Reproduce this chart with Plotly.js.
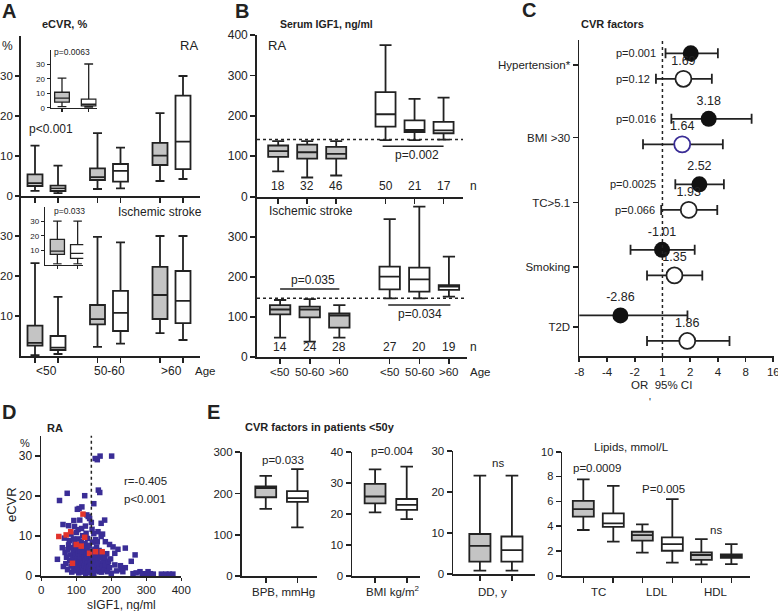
<!DOCTYPE html>
<html>
<head>
<meta charset="utf-8">
<script src="https://cdn.plot.ly/plotly-3.0.1.min.js"></script>
<style>
  html, body { margin: 0; padding: 0; background: #fff; }
  #chart { width: 778px; height: 611px; }
</style>
</head>
<body>
<div id="chart"></div>
<script>
// ---- data (box stats are [lower whisker, q1, median, q3, upper whisker]) ----
const ageGroups = ['<50', '50-60', '>60'];

// A: eCVR, % by age; gray = low IGF1, white = high IGF1
const ecvrRaGray = [[1.3, 2.5, 3.2, 5.4, 12.6], [1.75, 4.0, 4.7, 6.9, 15.7], [3.75, 7.75, 10.1, 13.3, 20.7]];
const ecvrRaWhite = [[0.7, 1.25, 1.9, 2.6, 7.6], [1.9, 3.6, 6.3, 8.0, 12.1], [4.25, 6.7, 13.6, 25.1, 30]];
const ecvrRaInset = [[0.8, 3.8, 6.6, 10.7, 20.5], [0.3, 1.2, 2.4, 6.0, 30.3]];
const ecvrIsGray = [[0.2, 2.6, 3.3, 7.6, 23.2], [2.3, 7.9, 9.2, 12.75, 29.8], [5.7, 9.25, 15.25, 22.3, 30]];
const ecvrIsWhite = [[0.5, 1.5, 2.1, 5.0, 14.8], [3.1, 6.25, 10.8, 16.3, 28.4], [4.0, 8.2, 13.8, 21.25, 30]];
const ecvrIsInset = [[0.5, 7.1, 9.3, 17.5, 30], [0.5, 4.4, 7.8, 13.9, 30]];

// B: serum IGF1, ng/ml
const igfRaGray = [[62.5, 98.5, 112.5, 126.7, 137.5], [47.5, 94, 110, 129, 137.5], [52.5, 94, 106, 123.5, 137.5]];
const igfRaWhite = [[140, 173.5, 204, 258.5, 375], [140, 160, 165, 189, 242], [141, 157, 164, 185, 245]];
const igfIsGray = [[47.5, 106, 118, 129, 141.75], [37.5, 98.5, 118, 125, 144], [47.5, 72.5, 102.5, 108, 129]];
const igfIsWhite = [[146, 168.5, 200, 225, 344], [146, 162.5, 193.5, 222.5, 375], [150, 167, 175, 179, 250]];
const nRa = [18, 32, 46, 50, 21, 17];
const nIs = [14, 24, 28, 27, 20, 19];
const igfCutRa = 141.75;
const igfCutIs = 146;

// C: CVR factors, OR 95% CI (negative value = inverse ratio on this axis)
const cvrFactors = ['Hypertension*', 'BMI >30', 'TC>5.1', 'Smoking', 'T2D'];
const orFilled = [2.03, 3.18, 2.52, -1.01, -2.86];
const ciFilledLo = [1.08, 1.25, 1.38, 0.45, 0.09];
const ciFilledHi = [4.0, 9.3, 4.65, 2.24, 1.87];
const pFilled = ['p=0.001', 'p=0.016', 'p=0.0025', '', ''];
const orOpen = [1.69, 1.64, 1.93, 1.35, 1.86];
const ciOpenLo = [0.85, 0.615, 0.97, 0.68, 0.68];
const ciOpenHi = [3.44, 4.53, 3.94, 2.71, 5.35];
const pOpen = ['p=0.12', '', 'p=0.066', '', ''];
const orTicks = [-8, -4, -2, 1, 2, 4, 8, 16];

// D: eCVR vs sIGF1 in RA
const scatterBlue = [
  [154, 29.3], [160, 29.0], [168, 29.9], [201, 29.9],
  [163, 21.4], [167, 20.8], [74, 20.6], [52, 18.8], [124, 20.0], [150, 18.0],
  [103, 16.6], [116, 17.2], [108, 16.8], [130, 15.2], [134, 14.8], [138, 14.3], [93, 13.8], [110, 13.9],
  [143, 13.3], [171, 13.1], [181, 13.9], [126, 12.4], [62, 12.8], [78, 12.5],
  [105, 11.5], [95, 12.3], [115, 11.8], [132, 9.3], [150, 10.5], [162, 11.0], [171, 9.8], [160, 8.5], [183, 8.5],
  [78, 7.7], [195, 7.8], [205, 7.2], [219, 6.6], [240, 6.9], [210, 5.6], [268, 5.2], [257, 3.6], [46, 4.1],
  [63, 2.3], [210, 2.7], [226, 2.5], [240, 2.0], [229, 1.5], [190, 3.1], [181, 1.8],
  [262, 0.5], [271, 0.7], [282, 1.0], [294, 0.5], [305, 1.0], [312, 0.5], [320, 0.4], [343, 0.4], [356, 0.4],
  [366, 0.4], [376, 0.4], [288, 0.4], [300, 0.4], [150, 0.4], [167, 1.0], [139, 0.8], [200, 0.6], [215, 1.2], [233, 1.0],
  [60, 7.0], [66, 9.4], [68, 5.8], [70, 3.0], [72, 4.6], [75, 1.5], [76, 6.5], [80, 8.8], [81, 3.8], [83, 5.2],
  [85, 2.4], [87, 0.9], [88, 7.0], [90, 4.4], [92, 6.0], [93, 2.0], [95, 3.4], [96, 8.2], [98, 5.0], [99, 1.2],
  [100, 3.0], [101, 6.8], [103, 4.2], [104, 2.3], [105, 9.2], [106, 5.6], [107, 0.7], [108, 3.6], [109, 7.4], [110, 1.8],
  [111, 4.8], [112, 6.2], [113, 2.8], [114, 8.6], [115, 0.9], [116, 4.0], [117, 5.5], [118, 2.1], [119, 7.0], [120, 3.2],
  [121, 1.3], [122, 4.5], [123, 6.0], [124, 2.6], [125, 8.0], [126, 3.8], [127, 0.6], [128, 5.2], [129, 1.9], [130, 4.2],
  [131, 6.8], [132, 3.0], [133, 2.0], [134, 5.6], [135, 0.9], [136, 3.6], [137, 7.6], [138, 2.4], [139, 4.9], [140, 1.5],
  [141, 3.3], [142, 6.2], [143, 2.6], [144, 4.4], [145, 0.6], [146, 8.4], [147, 3.0], [148, 5.3], [149, 1.8], [150, 4.0],
  [152, 2.4], [153, 6.6], [154, 3.5], [156, 1.2], [157, 4.8], [158, 7.2], [159, 2.8], [161, 5.8], [162, 3.9], [164, 1.6],
  [165, 6.3], [166, 2.2], [168, 4.5], [170, 3.1], [172, 0.9], [173, 5.0], [175, 2.5], [177, 3.8], [179, 1.4], [182, 4.6],
  [184, 2.7], [187, 5.5], [189, 1.0], [192, 3.6], [195, 2.0], [198, 4.2], [85, 10.4], [118, 10.0], [145, 11.6], [100, 10.8],
  [128, 10.6], [155, 9.0], [175, 10.4], [92, 9.2]
];
const scatterRed = [[119, 15.4], [84, 11.0], [71, 10.2], [50, 9.8], [124, 9.6], [100, 7.8], [114, 7.4], [138, 5.6], [155, 6.0], [174, 6.0], [89, 3.1]];
const igfCutD = 143;

// E: CVR factors in patients <50y
const bpbGray = [163, 191, 213, 217, 243];
const bpbWhite = [118, 180, 189, 206, 259];
const bmiGray = [20.6, 23.5, 25.7, 29.8, 34.5];
const bmiWhite = [18.4, 21.4, 23, 24.9, 35.4];
const ddGray = [0.9, 3.1, 6.9, 9.8, 24];
const ddWhite = [0.9, 3.1, 5.9, 9.2, 24];
const lipidNames = ['TC', 'LDL', 'HDL'];
const lipidGray = [[3.7, 4.77, 5.38, 6.05, 7.77], [1.88, 2.84, 3.29, 3.56, 4.15], [0.94, 1.29, 1.69, 1.9, 2.97]];
const lipidWhite = [[2.76, 3.96, 4.23, 5.04, 7.25], [1.07, 2.03, 2.57, 3.1, 6.19], [0.96, 1.47, 1.61, 1.74, 2.57]];

// ---- styling helpers ----
const W = 778, H = 611;
const INK = '#222';
const GRAY = '#c4c4c4';
const BLUE = '#3a2d96';
const RED = '#e2332c';
const FONT = 'Liberation Sans, Arial, sans-serif';

const xd = (a, b) => [a / W, b / W];
const yd = (top, bottom) => [1 - bottom / H, 1 - top / H];
const id = n => (n === 1 ? '' : String(n));
const tf = size => ({ size: size, color: INK, family: FONT });

function axis(domain, extra) {
    return Object.assign({
        domain: domain, showline: true, linecolor: INK, linewidth: 1.8,
        ticks: 'outside', ticklen: 5, tickwidth: 1.6, tickcolor: INK,
        showgrid: false, zeroline: false, fixedrange: true,
        tickfont: tf(12)
    }, extra);
}

function boxTrace(stats, pos, fill, n, width, lw) {
    return {
        type: 'box', x: pos,
        lowerfence: stats.map(s => s[0]), q1: stats.map(s => s[1]), median: stats.map(s => s[2]),
        q3: stats.map(s => s[3]), upperfence: stats.map(s => s[4]),
        width: width, fillcolor: fill, line: { color: INK, width: lw || 1.8 },
        whiskerwidth: 0.6, boxpoints: false, hoverinfo: 'skip', showlegend: false,
        xaxis: 'x' + id(n), yaxis: 'y' + id(n)
    };
}

function note(text, x, y, o) {
    o = o || {};
    return {
        text: text, x: x / W, y: 1 - y / H, xref: 'paper', yref: 'paper',
        xanchor: o.anchor || 'left', yanchor: 'middle', showarrow: false, textangle: o.angle || 0,
        font: tf(o.size || 12)
    };
}

// positions
const pairOff = 0.184;
const aGrayPos = ageGroups.map((g, i) => i - pairOff);
const aWhitePos = ageGroups.map((g, i) => i + pairOff);
const bGrayPos = [0, 1, 2];
const bWhitePos = [3.7, 4.7, 5.7];
const lipGrayPos = lipidNames.map((g, i) => i - 0.254);
const lipWhitePos = lipidNames.map((g, i) => i + 0.254);
const toAxis = v => (v < 0 ? -1 / v : v);

const traces = [
    boxTrace(ecvrRaGray, aGrayPos, GRAY, 1, 0.24),
    boxTrace(ecvrRaWhite, aWhitePos, '#fff', 1, 0.24),
    boxTrace([ecvrRaInset[0]], [0], GRAY, 2, 0.55, 1.3),
    boxTrace([ecvrRaInset[1]], [1], '#fff', 2, 0.55, 1.3),
    boxTrace(ecvrIsGray, aGrayPos, GRAY, 3, 0.24),
    boxTrace(ecvrIsWhite, aWhitePos, '#fff', 3, 0.24),
    boxTrace([ecvrIsInset[0]], [0], GRAY, 4, 0.7, 1.3),
    boxTrace([ecvrIsInset[1]], [1], '#fff', 4, 0.7, 1.3),
    boxTrace(igfRaGray, bGrayPos, GRAY, 5, 0.69),
    boxTrace(igfRaWhite, bWhitePos, '#fff', 5, 0.69),
    boxTrace(igfIsGray, bGrayPos, GRAY, 6, 0.69),
    boxTrace(igfIsWhite, bWhitePos, '#fff', 6, 0.69),
    boxTrace([bpbGray], [0], GRAY, 9, 0.66),
    boxTrace([bpbWhite], [1], '#fff', 9, 0.66),
    boxTrace([bmiGray], [0], GRAY, 10, 0.66),
    boxTrace([bmiWhite], [1], '#fff', 10, 0.66),
    boxTrace([ddGray], [0], GRAY, 11, 0.66),
    boxTrace([ddWhite], [1], '#fff', 11, 0.66),
    boxTrace(lipidGray, lipGrayPos, GRAY, 12, 0.356),
    boxTrace(lipidWhite, lipWhitePos, '#fff', 12, 0.356)
];

// C forest plot
const rowsFilled = cvrFactors.map((f, i) => i);
const rowsOpen = cvrFactors.map((f, i) => i + 0.39);
const xf = orFilled.map(toAxis);
const xo = orOpen.map(toAxis);
traces.push({
    type: 'scatter', mode: 'markers+text', x: xf, y: rowsFilled, xaxis: 'x7', yaxis: 'y7',
    text: orFilled.map(String), textposition: 'top center', textfont: tf(12.5),
    marker: { size: 16, color: '#111' },
    error_x: { type: 'data', symmetric: false, array: ciFilledHi.map((h, i) => h - xf[i]),
        arrayminus: ciFilledLo.map((l, i) => xf[i] - l), color: INK, thickness: 1.8, width: 5 },
    hoverinfo: 'skip', showlegend: false
});
traces.push({
    type: 'scatter', mode: 'markers+text', x: xo, y: rowsOpen, xaxis: 'x7', yaxis: 'y7',
    text: orOpen.map(String), textposition: 'top center', textfont: tf(12.5),
    marker: { size: 16, color: '#fff', line: { color: orOpen.map((v, i) => (i === 1 ? BLUE : INK)), width: 1.8 } },
    error_x: { type: 'data', symmetric: false, array: ciOpenHi.map((h, i) => h - xo[i]),
        arrayminus: ciOpenLo.map((l, i) => xo[i] - l), color: INK, thickness: 1.8, width: 5 },
    hoverinfo: 'skip', showlegend: false
});

// D scatter
traces.push({
    type: 'scatter', mode: 'markers', x: scatterBlue.map(p => p[0]), y: scatterBlue.map(p => p[1]),
    xaxis: 'x8', yaxis: 'y8', cliponaxis: false,
    marker: { symbol: 'square', size: 5.5, color: BLUE }, hoverinfo: 'skip', showlegend: false
});
traces.push({
    type: 'scatter', mode: 'markers', x: scatterRed.map(p => p[0]), y: scatterRed.map(p => p[1]),
    xaxis: 'x8', yaxis: 'y8', cliponaxis: false,
    marker: { symbol: 'square', size: 5.5, color: RED }, hoverinfo: 'skip', showlegend: false
});

// ---- layout ----
const cMax = Math.log10(16) + 0.012;
const layout = {
    width: W, height: H, margin: { l: 0, r: 0, t: 0, b: 0 },
    paper_bgcolor: '#fff', plot_bgcolor: 'rgba(0,0,0,0)',
    font: { family: FONT, color: INK }, showlegend: false, boxmode: 'overlay',
    // A
    xaxis: axis(xd(21, 200), { anchor: 'y', range: [-0.408, 2.456], tickvals: aGrayPos.concat(aWhitePos), showticklabels: false }),
    yaxis: axis(yd(36, 196), { anchor: 'x', range: [0, 40], tickvals: [0, 10, 20, 30], ticklen: 4, tickfont: tf(11.5) }),
    xaxis2: axis(xd(50.7, 96.7), { anchor: 'y2', range: [-0.423, 1.3], tickvals: [0, 1], showticklabels: false, ticklen: 3, linewidth: 1.2, tickwidth: 1.2 }),
    yaxis2: axis(yd(50, 107.7), { anchor: 'x2', range: [0, 40], tickvals: [0, 10, 20, 30], ticklen: 3, linewidth: 1.2, tickwidth: 1.2, tickfont: tf(8) }),
    xaxis3: axis(xd(21, 200), { anchor: 'y3', range: [-0.408, 2.456], tickvals: aGrayPos.concat(aWhitePos), showticklabels: false }),
    yaxis3: axis(yd(196, 356), { anchor: 'x3', range: [0, 40], tickvals: [10, 20, 30], ticklen: 4, tickfont: tf(11.5) }),
    xaxis4: axis(xd(45, 83.3), { anchor: 'y4', range: [-0.61, 1.28], tickvals: [0, 1], showticklabels: false, ticklen: 3, linewidth: 1.2, tickwidth: 1.2 }),
    yaxis4: axis(yd(206.7, 264.7), { anchor: 'x4', range: [0, 40], tickvals: [10, 20, 30], ticklen: 3, linewidth: 1.2, tickwidth: 1.2, tickfont: tf(8) }),
    // B
    xaxis5: axis(xd(257, 463), { anchor: 'y5', range: [-0.73, 6.37], tickvals: bGrayPos.concat(bWhitePos), showticklabels: false }),
    yaxis5: axis(yd(35, 196.7), { anchor: 'x5', range: [0, 400], tickvals: [0, 100, 200, 300, 400] }),
    xaxis6: axis(xd(257, 466.7), { anchor: 'y6', range: [-0.78, 6.3], tickvals: bGrayPos.concat(bWhitePos), showticklabels: false }),
    yaxis6: axis(yd(196.7, 356.7), { anchor: 'x6', range: [0, 400], tickvals: [0, 100, 200, 300] }),
    // C
    xaxis7: axis(xd(579.3, 773.3 + 0.012 / Math.log10(2) * 27.7), { anchor: 'y7', type: 'log', range: [Math.log10(1 / 8), cMax],
        tickvals: orTicks.map(toAxis), ticktext: orTicks.map(String), ticklen: 4, tickfont: tf(11.5), ticklabeloverflow: 'allow' }),
    yaxis7: axis(yd(40, 356), { anchor: 'x7', range: [4.62, -0.203],
        tickvals: [0.18, 1.285, 2.28, 3.26, 4.18], ticktext: cvrFactors, tickfont: tf(11.5) }),
    // D
    xaxis8: axis(xd(41.3, 181.3), { anchor: 'y8', range: [0, 400], tickvals: [0, 100, 200, 300, 400], ticklen: 3, tickfont: tf(11.5) }),
    yaxis8: axis(yd(435.7, 575.7), { anchor: 'x8', range: [0, 35], tickvals: [0, 10, 20, 30], tickfont: tf(12) }),
    // E
    xaxis9: axis(xd(241.7, 316.7), { anchor: 'y9', range: [-0.76, 1.61], tickvals: [0, 1], showticklabels: false }),
    yaxis9: axis(yd(452.3, 576), { anchor: 'x9', range: [0, 300], tickvals: [0, 100, 200, 300], tickfont: tf(11.5) }),
    xaxis10: axis(xd(352.3, 420), { anchor: 'y10', range: [-0.72, 1.42], tickvals: [0, 1], showticklabels: false }),
    yaxis10: axis(yd(452.3, 576), { anchor: 'x10', range: [0, 40], tickvals: [0, 10, 20, 30, 40], tickfont: tf(11.5) }),
    xaxis11: axis(xd(453.3, 535), { anchor: 'y11', range: [-0.83, 1.72], tickvals: [0, 1], showticklabels: false }),
    yaxis11: axis(yd(451, 574.3), { anchor: 'x11', range: [0, 30], tickvals: [0, 10, 20, 30], tickfont: tf(11.5) }),
    xaxis12: axis(xd(562.3, 750), { anchor: 'y12', range: [-0.61, 2.57], tickvals: lipGrayPos.concat(lipWhitePos), showticklabels: false }),
    yaxis12: axis(yd(451.7, 576), { anchor: 'x12', range: [0, 10], tickvals: [0, 2, 4, 6, 8, 10], tickfont: tf(11) }),
    shapes: [
        { type: 'line', xref: 'x5 domain', yref: 'y5', x0: 0, x1: 1, y0: igfCutRa, y1: igfCutRa, line: { color: INK, width: 1.5, dash: 'dot' } },
        { type: 'line', xref: 'x6 domain', yref: 'y6', x0: 0, x1: 1, y0: igfCutIs, y1: igfCutIs, line: { color: INK, width: 1.5, dash: 'dot' } },
        { type: 'line', xref: 'x5', yref: 'y5', x0: 3.6, x1: 5.7, y0: 125, y1: 125, line: { color: INK, width: 1.5 } },
        { type: 'line', xref: 'x6', yref: 'y6', x0: 0, x1: 2, y0: 169, y1: 169, line: { color: INK, width: 1.5 } },
        { type: 'line', xref: 'x6', yref: 'y6', x0: 3.65, x1: 5.75, y0: 129, y1: 129, line: { color: INK, width: 1.5 } },
        { type: 'line', xref: 'x7', yref: 'y7 domain', x0: 1, x1: 1, y0: 0, y1: 1, line: { color: INK, width: 1.5, dash: 'dot' } },
        { type: 'line', xref: 'x8', yref: 'y8 domain', x0: igfCutD, x1: igfCutD, y0: 0, y1: 1, line: { color: INK, width: 1.5, dash: 'dot' } }
    ],
    annotations: []
};

const ann = layout.annotations;
// A
ann.push(note('<b>A</b>', 0, 11, { size: 20 }));
ann.push(note('<b>eCVR, %</b>', 64.5, 24, { size: 11, anchor: 'center' }));
ann.push(note('%', 0, 46, { size: 12 }));
ann.push(note('RA', 189, 46, { size: 13, anchor: 'center' }));
ann.push(note('p=0.0063', 52, 52.5, { size: 8.5 }));
ann.push(note('p<0.001', 27, 129, { size: 12 }));
ann.push(note('p=0.033', 52, 211, { size: 8.5 }));
ann.push(note('Ischemic stroke', 115.5, 212.5, { size: 12 }));
ageGroups.forEach((g, i) => ann.push({ text: g, x: i, xref: 'x3', y: 1 - 371 / H, yref: 'paper', showarrow: false,
    yanchor: 'middle', font: tf(12) }));
ann.push(note('Age', 192.5, 371, { size: 11.5 }));
// B
ann.push(note('<b>B</b>', 233, 11, { size: 20 }));
ann.push(note('<b>Serum IGF1, ng/ml</b>', 278, 24, { size: 10.5 }));
ann.push(note('RA', 266, 45, { size: 13 }));
ann.push(note('p=0.002', 416.7, 155, { size: 12, anchor: 'center' }));
ann.push(note('Ischemic stroke', 267, 211, { size: 12 }));
ann.push(note('p=0.035', 313.3, 280, { size: 12, anchor: 'center' }));
ann.push(note('p=0.034', 420, 314.3, { size: 12, anchor: 'center' }));
bGrayPos.concat(bWhitePos).forEach((p, i) => {
    ann.push({ text: String(nRa[i]), x: p, xref: 'x5', y: 1 - 186 / H, yref: 'paper', showarrow: false,
        yanchor: 'middle', font: tf(12) });
    ann.push({ text: String(nIs[i]), x: p, xref: 'x6', y: 1 - 346.7 / H, yref: 'paper', showarrow: false,
        yanchor: 'middle', font: tf(12) });
    ann.push({ text: ageGroups[i % 3], x: p, xref: 'x6', y: 1 - 371.7 / H, yref: 'paper', showarrow: false,
        yanchor: 'middle', font: tf(11.5) });
});
ann.push(note('n', 468, 186, { size: 12 }));
ann.push(note('n', 468, 346.7, { size: 12 }));
ann.push(note('Age', 468, 371.7, { size: 11.5 }));
// C
ann.push(note('<b>C</b>', 520, 10, { size: 20 }));
ann.push(note('<b>CVR factors</b>', 579.3, 24, { size: 11 }));
ann.push(note('OR  95% CI', 661.7, 385, { size: 11.5, anchor: 'center' }));
ann.push(note("'", 650, 403, { size: 10, anchor: 'center' }));
cvrFactors.forEach((f, i) => {
    if (pFilled[i]) ann.push({ text: pFilled[i], x: Math.log10(Math.min(ciFilledLo[i], 1)), xref: 'x7', y: rowsFilled[i], yref: 'y7',
        xanchor: 'right', xshift: -4, yanchor: 'middle', showarrow: false, font: tf(11) });
    if (pOpen[i]) ann.push({ text: pOpen[i], x: Math.log10(Math.min(ciOpenLo[i], 1)), xref: 'x7', y: rowsOpen[i], yref: 'y7',
        xanchor: 'right', xshift: -4, yanchor: 'middle', showarrow: false, font: tf(11) });
});
// D
ann.push(note('<b>D</b>', 0, 412, { size: 20 }));
ann.push(note('<b>RA</b>', 45, 427.5, { size: 11 }));
ann.push(note('%', 25, 442.5, { size: 11, anchor: 'center' }));
ann.push(note('eCVR', 11, 505, { size: 13, anchor: 'center', angle: -90 }));
ann.push(note('sIGF1, ng/ml', 121, 604.5, { size: 12, anchor: 'center' }));
ann.push(note('r=-0.405', 121.5, 481, { size: 11.5 }));
ann.push(note('p<0.001', 122, 499, { size: 11.5 }));
// E
ann.push(note('<b>E</b>', 205, 412, { size: 20 }));
ann.push(note('<b>CVR factors in patients <50y</b>', 242.5, 427, { size: 11 }));
ann.push(note('p=0.033', 283.3, 460, { size: 11.5, anchor: 'center' }));
ann.push(note('BPB, mmHg', 283, 592, { size: 11.5, anchor: 'center' }));
ann.push(note('p=0.004', 391.7, 450.7, { size: 11.5, anchor: 'center' }));
ann.push(note('BMI kg/m<sup>2</sup>', 393, 591, { size: 11.5, anchor: 'center' }));
ann.push(note('ns', 497.7, 462.7, { size: 11.5, anchor: 'center' }));
ann.push(note('DD, y', 492, 592, { size: 11.5, anchor: 'center' }));
ann.push(note('Lipids, mmol/L', 631, 447.3, { size: 11.5, anchor: 'center' }));
ann.push(note('p=0.0009', 597.3, 467.7, { size: 11.5, anchor: 'center' }));
ann.push(note('P=0.005', 663.3, 489.3, { size: 11.5, anchor: 'center' }));
ann.push(note('ns', 716, 530, { size: 11.5, anchor: 'center' }));
lipidNames.forEach((g, i) => ann.push({ text: g, x: i, xref: 'x12', y: 1 - 592 / H, yref: 'paper', showarrow: false,
    yanchor: 'middle', font: tf(11.5) }));

Plotly.newPlot('chart', traces, layout, { displayModeBar: false, staticPlot: true });
</script>
</body>
</html>
